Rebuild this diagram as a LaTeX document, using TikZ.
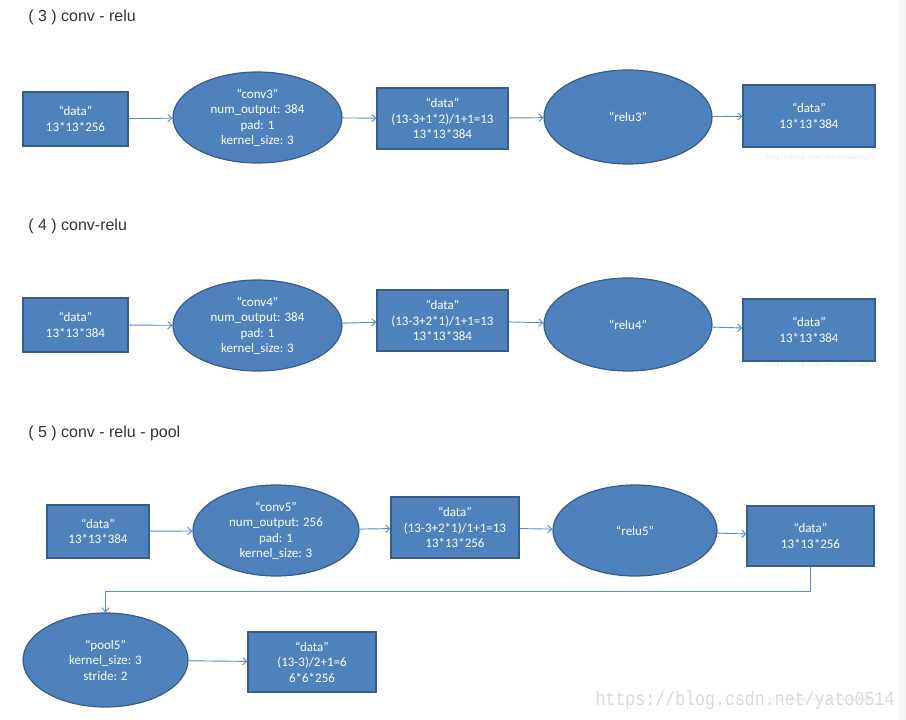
\documentclass[tikz,border=0pt]{standalone}
\usepackage{fontspec}
\setmainfont{Carlito}
\newfontfamily\titlefont{Liberation Sans}
\newfontfamily\wmfont{Liberation Mono}
\usetikzlibrary{shapes.geometric,arrows.meta}
\definecolor{boxc}{HTML}{4F81BD}
\definecolor{bordc}{HTML}{385D8A}
\definecolor{linec}{HTML}{5B8BC9}
\definecolor{wmc}{HTML}{DADADA}
\definecolor{wmsc}{HTML}{E2E2E2}
\definecolor{stripc}{HTML}{F4F5F7}
\definecolor{titlec}{HTML}{333333}
\tikzset{
  sz/.style 2 args={minimum width=#1*0.75pt, minimum height=#2*0.75pt},
  shp/.style={draw=bordc, fill=boxc, text=white, line width=0.9pt, inner sep=0pt, align=center,
    font=\fontsize{9.75pt}{11.6pt}\selectfont},
  bx/.style={shp, rectangle},
  el/.style={shp, ellipse},
  conn/.style={draw=linec, line width=0.7pt, -{Straight Barb[length=3pt,width=5.5pt]}},
  ttl/.style={anchor=west, text=titlec, inner sep=0pt, font=\titlefont\fontsize{12pt}{14pt}\selectfont},
  wmsmall/.style={text=wmsc, inner sep=0pt, font=\wmfont\fontsize{4.3pt}{5pt}\selectfont},
  wmbig/.style={text=wmc, inner sep=0pt, xscale=0.83, font=\wmfont\fontsize{15pt}{17pt}\selectfont}
}
\begin{document}
\begin{tikzpicture}[x=0.75pt,y=-0.75pt]
\useasboundingbox (0,0) rectangle (906,720);
\fill[white] (0,0) rectangle (906,720);
\fill[stripc] (899,0) rectangle (906,720);

% Row 1
\node[ttl] (t1) at (28,17) {( 3 ) conv - relu};
\node[bx,sz={105}{54}] (b11) at (75.5,119) {“data”\\13*13*256};
\node[el,sz={169}{91}] (e12) at (257.5,117.5) {“conv3”\\num\_output: 384\\pad: 1\\kernel\_size: 3};
\node[bx,sz={131}{61}] (b13) at (442.5,118.5) {“data”\\(13-3+1*2)/1+1=13\\13*13*384};
\node[el,sz={168}{94}] (e14) at (628,117) {“relu3”};
\node[bx,sz={132}{62}] (b15) at (809,116) {“data”\\13*13*384};
\node[wmsmall] (w1) at (818,158) {http://blog.csdn.net/sunbaigui};
\draw[conn] (b11) -- (e12);
\draw[conn] (e12) -- (b13);
\draw[conn] (b13) -- (e14);
\draw[conn] (e14) -- (b15);

% Row 2
\node[ttl] (t2) at (28,226) {( 4 ) conv-relu};
\node[bx,sz={105}{54}] (b21) at (75.5,325) {“data”\\13*13*384};
\node[el,sz={169}{91}] (e22) at (257.5,325.5) {“conv4”\\num\_output: 384\\pad: 1\\kernel\_size: 3};
\node[bx,sz={131}{61}] (b23) at (442.5,320.5) {“data”\\(13-3+2*1)/1+1=13\\13*13*384};
\node[el,sz={168}{93}] (e24) at (628,324.5) {“relu4”};
\node[bx,sz={132}{62}] (b25) at (809,330) {“data”\\13*13*384};
\node[wmsmall] (w2) at (818,365) {http://blog.csdn.net/sunbaigui};
\draw[conn] (b21) -- (e22);
\draw[conn] (e22) -- (b23);
\draw[conn] (b23) -- (e24);
\draw[conn] (e24) -- (b25);

% Row 3
\node[ttl] (t3) at (28,433) {( 5 ) conv - relu - pool};
\node[bx,sz={102}{53}] (b31) at (98,531.5) {“data”\\13*13*384};
\node[el,sz={166}{91}] (e32) at (276,530.5) {“conv5”\\num\_output: 256\\pad: 1\\kernel\_size: 3};
\node[bx,sz={128}{61}] (b33) at (455,527.5) {“data”\\(13-3+2*1)/1+1=13\\13*13*256};
\node[el,sz={164}{91}] (e34) at (635,530.5) {“relu5”};
\node[bx,sz={127}{60}] (b35) at (810.5,536) {“data”\\13*13*256};
\draw[conn] (b31) -- (e32);
\draw[conn] (e32) -- (b33);
\draw[conn] (b33) -- (e34);
\draw[conn] (e34) -- (b35);

% Row 4
\node[el,sz={165}{94}] (e41) at (105.5,660) {“pool5”\\kernel\_size: 3\\stride: 2};
\node[bx,sz={128}{60}] (b42) at (312,662) {“data”\\(13-3)/2+1=6\\6*6*256};
\coordinate (turn) at (810.5,591);
\draw[conn] (b35.south) -- (turn) -| (e41.north);
\draw[conn] (e41) -- (b42);

% Watermarks
\node[wmbig] (w3) at (745,700) {https://blog.csdn.net/yato0514};
\node[wmsmall] (w4) at (820,700) {http://blog.csdn.net/sunbaigui};
\end{tikzpicture}
\end{document}
